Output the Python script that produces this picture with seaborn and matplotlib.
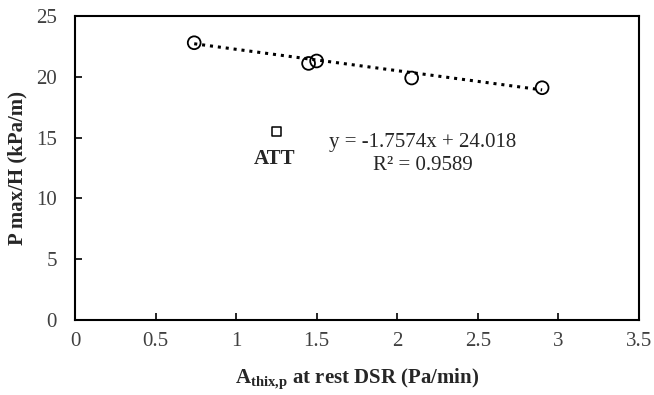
import numpy as np
import pandas as pd
import matplotlib
matplotlib.use("Agg")
import matplotlib.pyplot as plt
import seaborn as sns

# values
athix = [0.74, 1.45, 1.50, 2.09, 2.90]
pmax_h = [22.8, 21.1, 21.3, 19.9, 19.1]
att_x = [1.25]
att_y = [15.5]
slope = -1.7574
intercept = 24.018
r2 = 0.9589
x_ticks = [0, 0.5, 1, 1.5, 2, 2.5, 3, 3.5]
y_ticks = [0, 5, 10, 15, 20, 25]

sns.set_theme(style="white")
plt.rcParams['font.family'] = ['Liberation Serif', 'DejaVu Serif']
plt.rcParams['mathtext.fontset'] = 'custom'
plt.rcParams['mathtext.rm'] = 'Liberation Serif'
plt.rcParams['mathtext.bf'] = 'Liberation Serif:bold'

fig = plt.figure(figsize=(6.54, 3.95), dpi=100)
ax = fig.add_axes([0.1147, 0.19, 0.862, 0.7695])

df = pd.DataFrame({'x': athix, 'y': pmax_h})
trend = pd.DataFrame({'x': [min(athix), max(athix)]})
trend['y'] = slope * trend['x'] + intercept

sns.lineplot(data=trend, x='x', y='y', ax=ax, color='black',
             linestyle=(0, (1, 1.6)), linewidth=2.2, zorder=2)
sns.scatterplot(data=df, x='x', y='y', ax=ax, marker='o', s=85,
                facecolor='none', edgecolor='black', linewidth=1.3, zorder=3)
sns.scatterplot(x=att_x, y=att_y, ax=ax, marker='s', s=40,
                facecolor='none', edgecolor='black', linewidth=1.1, zorder=3)

txt = '#262626'
ax.text(1.24, 13.2, 'ATT', ha='center', va='center', fontsize=15, fontweight='bold', color=txt)
ax.text(2.16, 14.6, f'y = {slope}x + {intercept:.3f}', ha='center', va='center', fontsize=15, color=txt)
ax.text(2.16, 12.7, f'R² = {r2}', ha='center', va='center', fontsize=15, color=txt)

ax.set_xlim(0, 3.5)
ax.set_ylim(0, 25)
ax.set_xticks(x_ticks)
ax.set_xticklabels([f'{t:g}' for t in x_ticks])
ax.set_yticks(y_ticks)
ax.tick_params(direction='in', length=5, width=1.2, color='black',
               labelcolor='#404040', labelsize=15, bottom=True, left=True)
ax.tick_params(axis='x', pad=9)
ax.tick_params(axis='y', pad=13)
for s in ax.spines.values():
    s.set_color('black')
    s.set_linewidth(1.5)

ax.set_xlabel(r'$\mathbf{A}_{\mathbf{thix{,}p}}$ at rest DSR (Pa/min)', fontsize=15,
              fontweight='bold', labelpad=11, color=txt)
ax.set_ylabel('P max/H (kPa/m)', fontsize=15, fontweight='bold', labelpad=6, color=txt)

fig.savefig('out.png', dpi=100)
